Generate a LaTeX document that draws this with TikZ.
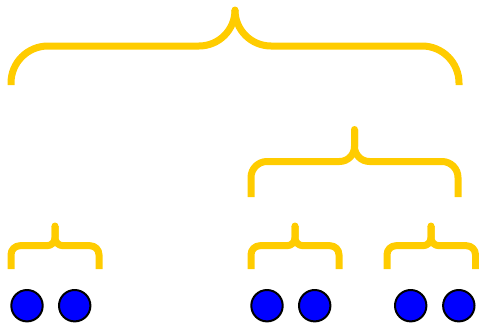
\documentclass[tikz,border=0pt]{standalone}
\definecolor{braceyellow}{HTML}{FFCC00}
\tikzset{
  bracestroke/.style={draw=braceyellow, line width=7pt, line cap=butt, line join=round},
  ball/.style={circle, draw=black, fill=blue, line width=2pt, minimum size=31.4pt, inner sep=0pt}
}
% #1 left x, #2 right x, #3 tip x, #4 end y, #5 horizontal y, #6 tip y, #7 end radius, #8 middle radius
\newcommand\ybrace[8]{%
  \draw[bracestroke] (#1,#4) -- (#1,{#5+#7})
    .. controls (#1,{#5+#7*0.4477}) and ({#1+#7*0.4477},#5) .. ({#1+#7},#5)
    -- ({#3-#8},#5)
    .. controls ({#3-#8*0.4477},#5) and (#3,{#5-#8*0.4477}) .. (#3,{#5-#8})
    -- (#3,#6);
  \draw[bracestroke] (#2,#4) -- (#2,{#5+#7})
    .. controls (#2,{#5+#7*0.4477}) and ({#2-#7*0.4477},#5) .. ({#2-#7},#5)
    -- ({#3+#8},#5)
    .. controls ({#3+#8*0.4477},#5) and (#3,{#5-#8*0.4477}) .. (#3,{#5-#8})
    -- (#3,#6);
  \fill[braceyellow] (#3,#6) circle (3.5pt);
}
\begin{document}
\begin{tikzpicture}[x=1pt, y=-1pt]
\useasboundingbox (0,0) rectangle (479,327);
% braces
\ybrace{11}{459}{235}{85}{46}{10}{37}{36}
\ybrace{251}{458}{354.5}{197}{161.5}{129.5}{16}{15}
\ybrace{11}{99}{55}{269}{245.7}{226}{9}{8}
\ybrace{251}{339}{295}{269}{245.7}{226}{9}{8}
\ybrace{387}{475.5}{431}{269}{245.7}{226}{9}{8}
% balls
\node[ball] (b1) at (27,305.7) {};
\node[ball] (b2) at (74.7,305.7) {};
\node[ball] (b3) at (267,305.7) {};
\node[ball] (b4) at (314.7,305.7) {};
\node[ball] (b5) at (410.7,305.7) {};
\node[ball] (b6) at (458.8,305.7) {};
\end{tikzpicture}
\end{document}
